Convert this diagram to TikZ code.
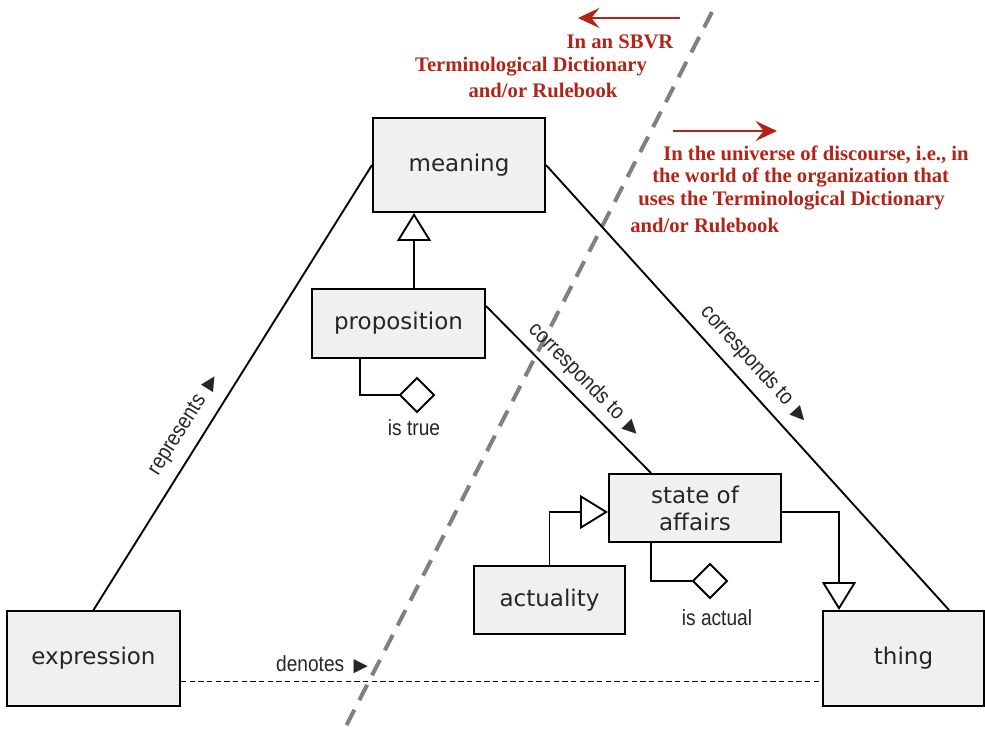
\documentclass[tikz,border=0pt]{standalone}
\usepackage{fontspec}
\setmainfont{DejaVu Sans}
\newfontfamily\lblfont[FakeStretch=0.87]{Liberation Sans}
\newfontfamily\symfont{DejaVu Sans}
\newfontfamily\redfont{Liberation Serif}
\usetikzlibrary{arrows.meta,shapes.geometric,calc}
\definecolor{boxfill}{RGB}{240,240,240}
\definecolor{darkred}{RGB}{178,36,24}
\definecolor{divgray}{RGB}{128,128,128}
\newcommand{\tri}{{\symfont\fontsize{14pt}{14pt}\selectfont ▶}}
\begin{document}
\begin{tikzpicture}[x=0.75pt,y=-0.75pt,
  box/.style={draw=black, line width=1.5pt, fill=boxfill, inner sep=0pt,
    font=\fontsize{17.25pt}{20.25pt}\selectfont, align=center, text=black!85},
  conn/.style={line width=1.4pt},
  gen/.style={conn, -{Triangle[open, length=21pt, width=25.5pt, line width=1.4pt]}},
  dmd/.style={diamond, draw, line width=1.4pt, fill=white, minimum size=26pt, inner sep=0pt, aspect=1},
  lbl/.style={font=\lblfont\fontsize{16.5pt}{19pt}\selectfont, inner sep=0pt, text=black!85},
  redtxt/.style={font=\redfont\bfseries\fontsize{15.5pt}{17pt}\selectfont, text=darkred, inner sep=0pt},
  redarrow/.style={draw=darkred, line width=2pt, -{Stealth[length=16pt, width=15pt, inset=6pt]}},
  divider/.style={draw=divgray, line width=3pt, dash pattern=on 13pt off 8pt}
]
\useasboundingbox (0,0) rectangle (985,734);

% divider
\coordinate (dtop) at (712,12);
\coordinate (dbot) at (343,732);
\draw[divider] (dtop) -- (dbot);

% boxes
\node[box, minimum width=129pt, minimum height=70.5pt] (meaning) at (459,165) {meaning};
\node[box, minimum width=129.75pt, minimum height=51.75pt] (prop) at (398.5,323.5) {proposition};
\node[box, minimum width=129pt, minimum height=51pt] (sof) at (695,508) {state of\\affairs};
\node[box, minimum width=113.25pt, minimum height=51pt] (act) at (549.5,600) {actuality};
\node[box, minimum width=129.75pt, minimum height=71.25pt] (expr) at (93.5,658.5) {expression};
\node[box, minimum width=120.75pt, minimum height=71.25pt] (thing) at (903.5,658.5) {thing};

% diamonds
\node[dmd] (d1) at (417,395) {};
\node[dmd] (d2) at (710,581) {};

% connectors
\draw[conn] (expr.north) -- (meaning.west)
  node[lbl, sloped, above=8pt, pos=0.39] (lrep) {represents\hspace{7pt}\tri};
\draw[conn] (meaning.east) -- ($(thing.north west)+(127,0)$)
  node[lbl, sloped, above=7pt, pos=0.48] (lcor1) {corresponds to\hspace{7pt}\tri};
\draw[conn] ($(prop.north east)+(0,18)$) -- ($(sof.north west)+(43,0)$)
  node[lbl, sloped, above=5pt, pos=0.52] (lcor2) {corresponds to\hspace{7pt}\tri};
\draw[line width=1.2pt, dash pattern=on 4pt off 2.5pt] ($(expr.east)+(0,23)$) -- ($(thing.west)+(0,23)$)
  node[lbl, above=5pt, pos=0.22] (lden) {denotes\hspace{7pt}\tri};

% generalizations
\coordinate (g1) at ($(prop.north)+(15.5,0)$);
\draw[gen] (g1) -- (g1 |- meaning.south);
\draw[gen] (act.north) |- ($(sof.west)+(0,4)$);
\draw[gen] ($(sof.east)+(0,4)$) -| ($(thing.north west)+(17,0)$);

% properties
\draw[conn] ($(prop.south west)+(49,0)$) |- (d1.west);
\draw[conn] ($(sof.south west)+(43,0)$) |- (d2.west);
\node[lbl] (istrue) at (414,428) {is true};
\node[lbl] (isactual) at (717,618) {is actual};

% red annotations
\coordinate (ra1s) at (680,18);
\coordinate (ra1e) at (578,18);
\draw[redarrow] (ra1s) -- (ra1e);
\coordinate (ra2s) at (673,131);
\coordinate (ra2e) at (777,131);
\draw[redarrow] (ra2s) -- (ra2e);
\node[redtxt] (r1a) at (620,42) {In an SBVR};
\node[redtxt] (r1b) at (531,67) {Terminological Dictionary};
\node[redtxt] (r1c) at (543,90) {and/or Rulebook};
\node[redtxt, anchor=west] (r2a) at (663,155) {In the universe of discourse, i.e., in};
\node[redtxt, anchor=west] (r2b) at (652,178) {the world of the organization that};
\node[redtxt, anchor=west] (r2c) at (638,201) {uses the Terminological Dictionary};
\node[redtxt, anchor=west] (r2d) at (630,225) {and/or Rulebook};
\end{tikzpicture}
\end{document}
